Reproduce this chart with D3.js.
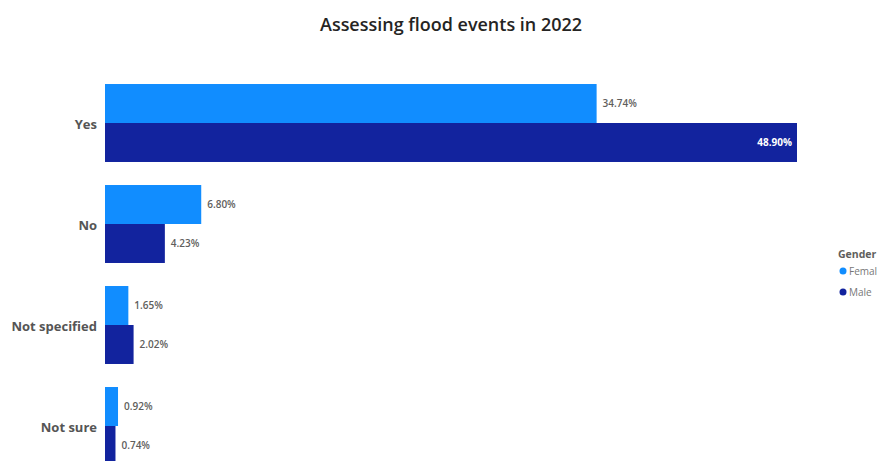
<!DOCTYPE html>
<html>
<head>
<meta charset="utf-8">
<script src="https://cdn.jsdelivr.net/npm/d3@7"></script>
<style>
  html, body { margin: 0; padding: 0; background: #ffffff; overflow: hidden; }
  svg { display: block; font-family: "Open Sans", "Segoe UI", sans-serif; }
</style>
</head>
<body>
<svg id="chart" width="883" height="461"></svg>
<script>
// Survey answers: did respondents assess flood events in 2022, by gender (% of all)
const categories = ["Yes", "No", "Not specified", "Not sure"];
const genders = ["Female", "Male"];
const femaleValues = [34.74, 6.80, 1.65, 0.92];
const maleValues = [48.90, 4.23, 2.02, 0.74];
const legendLabels = ["Femal", "Male"];
const colors = ["#118DFF", "#12239E"];

const svg = d3.select("#chart");

const rows = categories.map((c, i) => ({
  category: c,
  values: [
    { gender: genders[0], value: femaleValues[i] },
    { gender: genders[1], value: maleValues[i] }
  ]
}));

// Scales
const x = d3.scaleLinear().domain([0, 48.90]).range([105, 797]);
const y = d3.scaleBand().domain(categories).range([72.5, 476.5])
  .paddingInner(0.228).paddingOuter(0.114);
const ySub = d3.scaleBand().domain(genders).range([0, y.bandwidth()]).padding(0);
const color = d3.scaleOrdinal().domain(genders).range(colors);

// Title
svg.append("text")
  .attr("x", 451).attr("y", 31)
  .attr("text-anchor", "middle")
  .attr("font-size", 17.5).attr("font-weight", 600)
  .attr("fill", "#252423")
  .attr("font-family", "'Open Sans', sans-serif")
  .attr("textLength", 262)
  .attr("lengthAdjust", "spacingAndGlyphs")
  .text("Assessing flood events in 2022");

// Category axis (labels only)
const yAxis = d3.axisLeft(y).tickSize(0).tickPadding(8);
const gy = svg.append("g").attr("transform", `translate(${x(0)},2)`).call(yAxis);
gy.select(".domain").remove();
gy.selectAll("text")
  .attr("font-size", 13).attr("font-weight", 700)
  .attr("fill", "#555555")
  .attr("font-family", "'Open Sans', sans-serif");

// Bars
const groups = svg.append("g").selectAll("g")
  .data(rows).join("g")
  .attr("transform", d => `translate(0,${y(d.category)})`);

groups.selectAll("rect")
  .data(d => d.values).join("rect")
  .attr("x", x(0))
  .attr("y", d => ySub(d.gender))
  .attr("width", d => x(d.value) - x(0))
  .attr("height", ySub.bandwidth())
  .attr("fill", d => color(d.gender));

// Data labels: outside the bar, or inside when the bar reaches the end of the scale
groups.selectAll("text.val")
  .data(d => d.values).join("text")
  .attr("class", "val")
  .each(function(d) {
    const inside = x(d.value) > 760;
    d3.select(this)
      .attr("x", inside ? x(d.value) - 5 : x(d.value) + 6)
      .attr("text-anchor", inside ? "end" : "start")
      .attr("fill", inside ? "#ffffff" : "#605E5C")
      .attr("font-weight", inside ? 700 : 600);
  })
  .attr("y", d => ySub(d.gender) + ySub.bandwidth() / 2)
  .attr("dy", "0.35em")
  .attr("font-size", 10)
  .text(d => d.value.toFixed(2) + "%");

// Legend
const legend = svg.append("g").attr("transform", "translate(838,0)");
legend.append("text")
  .attr("x", 0).attr("y", 258)
  .attr("font-size", 10.5).attr("font-weight", 700)
  .attr("fill", "#605E5C")
  .text("Gender");
const items = legend.selectAll("g.item")
  .data(genders).join("g")
  .attr("class", "item")
  .attr("transform", (d, i) => `translate(0,${271 + i * 21})`);
items.append("circle")
  .attr("cx", 5).attr("cy", 0).attr("r", 3.5)
  .attr("fill", d => color(d));
items.append("text")
  .attr("x", 11).attr("y", 0).attr("dy", "0.35em")
  .attr("font-size", 10).attr("fill", "#777777")
  .text((d, i) => legendLabels[i]);
</script>
</body>
</html>
